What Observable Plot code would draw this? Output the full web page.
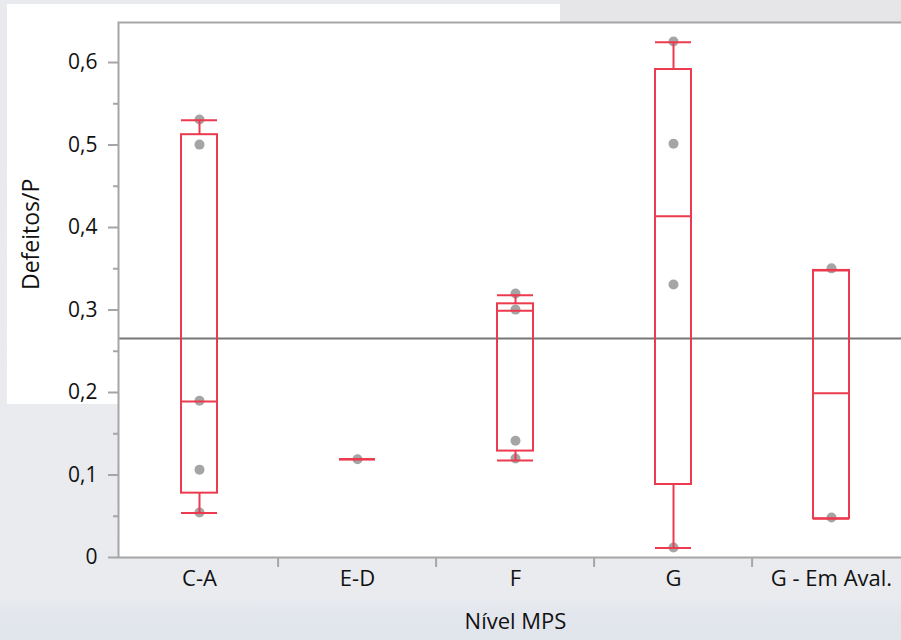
<!DOCTYPE html>
<html><head><meta charset="utf-8">
<script src="https://cdn.jsdelivr.net/npm/d3@7"></script>
<script src="https://cdn.jsdelivr.net/npm/@observablehq/plot@0.6"></script>
<style>
html,body{margin:0;padding:0;overflow:hidden;width:901px;height:640px;}
body{position:relative;background:linear-gradient(to bottom,#e9eaee 0px,#e9ebef 598px,#e3e6ed 614px,#e0e4eb 640px);font-family:"Open Sans",sans-serif;}
#panel{position:absolute;left:7px;top:4px;width:553px;height:400px;background:#fff;}
#topband{position:absolute;left:560px;top:0;width:341px;height:22px;background:#e6e5e7;}
#chart{position:absolute;left:0;top:0;}
</style></head><body>
<div id="panel"></div><div id="topband"></div><div id="chart"></div>
<script>
// Categories (Nível MPS)
const categories = ["C-A", "E-D", "F", "G", "G - Em Aval."];
// Box statistics
const whiskerLow  = [0.054, 0.119, 0.1176, 0.0115, 0.047];
const quartile1   = [0.078, 0.119, 0.129, 0.0885, 0.047];
const medians     = [0.189, 0.119, 0.299, 0.4135, 0.199];
const quartile3   = [0.5125, 0.119, 0.3075, 0.5915, 0.348];
const whiskerHigh = [0.530, 0.119, 0.318, 0.6245, 0.348];
// Individual observations
const pointCategory = ["C-A","C-A","C-A","C-A","C-A","E-D","F","F","F","F","G","G","G","G","G - Em Aval.","G - Em Aval."];
const pointValue    = [0.531,0.5005,0.190,0.1065,0.0545,0.119,0.320,0.3005,0.1415,0.120,0.6255,0.5015,0.331,0.0121,0.3505,0.0485];
// Overall reference line
const overallMean = [0.2655];
// Axis ticks
const yMajorTicks = [0, 0.1, 0.2, 0.3, 0.4, 0.5, 0.6];
const yMinorTicks = [0.05, 0.15, 0.25, 0.35, 0.45, 0.55];
const yMax = 0.6485;
const yLabel = "Defeitos/P";
const xLabel = "Nível MPS";

const boxes = categories.map((c, i) => ({cat: c, lo: whiskerLow[i], q1: quartile1[i], med: medians[i], q3: quartile3[i], hi: whiskerHigh[i]}));
const points = pointCategory.map((c, i) => ({cat: c, val: pointValue[i]}));

const red = "#ec3a4e";
const axisGrey = "#a6a6a6";
const fmt = d => d === 0 ? "0" : d.toFixed(1).replace(".", ",");
const inset = 61;
const width = 912, mL = 118, band = (width - mL) / categories.length;

const chart = Plot.plot({
  width: width, height: 640,
  marginLeft: mL, marginRight: 0, marginTop: 22, marginBottom: 83,
  style: {background: "transparent", maxWidth: "none", fontFamily: "'Open Sans', sans-serif", fontSize: "21px", color: "#111"},
  x: {type: "band", domain: categories, padding: 0},
  y: {domain: [0, yMax]},
  marks: [
    Plot.frame({fill: "white"}),
    Plot.ruleY(overallMean, {stroke: "#777", strokeWidth: 2}),
    Plot.dot(points, {x: "cat", y: "val", r: 5, fill: "#a5a5a5"}),
    Plot.ruleX(boxes, {x: "cat", y1: "q3", y2: "hi", stroke: red, strokeWidth: 2}),
    Plot.ruleX(boxes, {x: "cat", y1: "lo", y2: "q1", stroke: red, strokeWidth: 2}),
    Plot.barY(boxes, {x: "cat", y1: "q1", y2: "q3", fill: "none", stroke: red, strokeWidth: 2, insetLeft: inset, insetRight: inset}),
    Plot.tickY(boxes, {x: "cat", y: "med", stroke: red, strokeWidth: 2, insetLeft: inset, insetRight: inset}),
    Plot.tickY(boxes, {x: "cat", y: "hi", stroke: red, strokeWidth: 2, insetLeft: inset, insetRight: inset}),
    Plot.tickY(boxes, {x: "cat", y: "lo", stroke: red, strokeWidth: 2, insetLeft: inset, insetRight: inset}),
    Plot.frame({stroke: axisGrey, strokeWidth: 2}),
    Plot.axisY({ticks: yMajorTicks, tickSize: 10, text: null, label: null, color: axisGrey, strokeWidth: 2}),
    Plot.axisY({ticks: yMinorTicks, tickSize: 5, text: null, label: null, color: axisGrey, strokeWidth: 2}),
    Plot.axisY({ticks: yMajorTicks, tickSize: 0, tickPadding: 21, tickFormat: fmt, label: null, fill: "#111", fontSize: 21}),
    Plot.axisX({tickSize: 0, tickPadding: 13, label: null, fill: "#111", fontSize: 22}),
    Plot.axisX({ticks: categories.slice(1), tickSize: 10, text: null, label: null, dx: -band / 2, color: axisGrey, strokeWidth: 2}),
    Plot.text([yLabel], {text: d => d, frameAnchor: "left", rotate: -90, dx: -87, fontSize: 23, fill: "#111"}),
    Plot.text([xLabel], {text: d => d, frameAnchor: "bottom", dy: 71, fontSize: 22, fill: "#111"})
  ]
});
document.getElementById("chart").appendChild(chart);
</script>
</body></html>
